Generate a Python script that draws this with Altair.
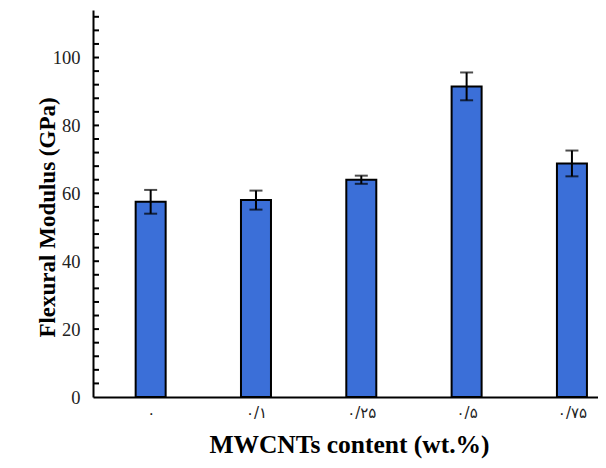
import json
import altair as alt
import pandas as pd

categories = ["۰", "۰/۱", "۰/۲۵", "۰/۵", "۰/۷۵"]
modulus = [57.5, 58.0, 64.0, 91.5, 68.8]
errors = [3.5, 2.8, 1.2, 4.1, 3.8]
minor_ticks = list(range(4, 113, 4))
major_ticks = [0, 20, 40, 60, 80, 100]

df = pd.DataFrame({
    "idx": list(range(len(categories))),
    "cat": categories,
    "val": modulus,
    "lo": [v - e for v, e in zip(modulus, errors)],
    "hi": [v + e for v, e in zip(modulus, errors)],
})

label_expr = json.dumps(categories, ensure_ascii=False) + "[datum.value]"

xscale = alt.Scale(domain=[-0.5, 4.2], nice=False, zero=False)
yscale = alt.Scale(domain=[0, 114], nice=False)

xaxis = alt.Axis(values=list(range(len(categories))), labelExpr=label_expr,
                 ticks=False, grid=False, domainColor="black", domainWidth=2,
                 labelFont="DejaVu Sans", labelFontSize=15, labelColor="#222",
                 labelPadding=8, title="MWCNTs content (wt.%)",
                 titleFont="Liberation Serif", titleFontSize=25.5, titleFontWeight="bold",
                 titleColor="black", titleX=256, titleY=55, titleBaseline="alphabetic")

yaxis = alt.Axis(values=major_ticks, ticks=False, grid=False, domainColor="black",
                 domainWidth=2, labelFont="Liberation Serif", labelFontSize=18.5,
                 labelColor="#222", labelPadding=13, title="Flexural Modulus (GPa)",
                 titleFont="Liberation Serif", titleFontSize=23, titleFontWeight="bold",
                 titleColor="black", titleX=-34, titleY=207)

base = alt.Chart(df)

bars = base.mark_bar(size=30, color="#3b6fd8", stroke="black", strokeWidth=2).encode(
    x=alt.X("idx:Q", scale=xscale, axis=xaxis),
    y=alt.Y("val:Q", scale=yscale, axis=yaxis),
)

rules = base.mark_rule(color="black", strokeWidth=2).encode(
    x=alt.X("idx:Q", scale=xscale),
    y=alt.Y("lo:Q", scale=yscale),
    y2="hi:Q",
)

caps_hi = base.mark_tick(orient="horizontal", size=13, thickness=2, color="black").encode(
    x=alt.X("idx:Q", scale=xscale),
    y=alt.Y("hi:Q", scale=yscale),
)
caps_lo = base.mark_tick(orient="horizontal", size=13, thickness=2, color="black").encode(
    x=alt.X("idx:Q", scale=xscale),
    y=alt.Y("lo:Q", scale=yscale),
)

tick_df = pd.DataFrame({"t": minor_ticks})
tick_layer = alt.Chart(tick_df).mark_rule(color="black", strokeWidth=2).encode(
    y=alt.Y("t:Q", scale=yscale),
    x=alt.value(0),
    x2=alt.value(6),
)

chart = alt.layer(bars, rules, caps_hi, caps_lo, tick_layer).properties(
    width=505, height=387,
    padding={"left": 85, "top": 2, "right": 0, "bottom": 63},
    autosize=alt.AutoSizeParams(type="none"),
    background="white",
).configure_view(stroke=None)

chart.save("out.html", embed_options={"renderer": "svg", "actions": False})
